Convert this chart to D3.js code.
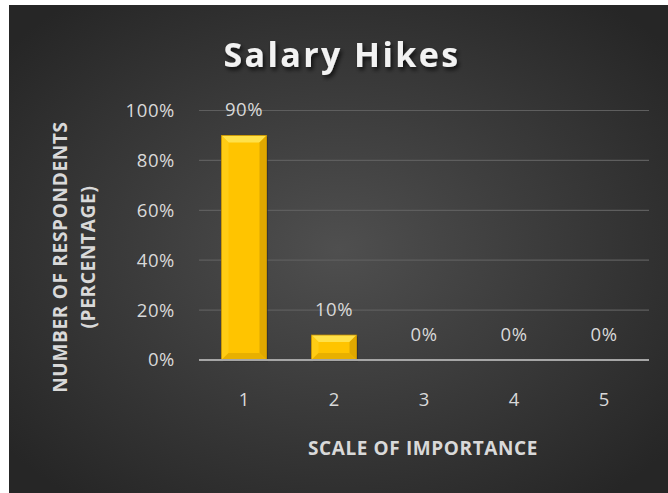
<!DOCTYPE html>
<html><head><meta charset="utf-8">
<script src="https://cdn.jsdelivr.net/npm/d3@7/dist/d3.min.js"></script>
<style>html,body{margin:0;padding:0;background:#fff;}svg{display:block;}</style>
</head><body>
<svg id="chart" width="668" height="493"></svg>
<script>
const categories = ["1","2","3","4","5"];
const values = [0.90, 0.10, 0, 0, 0];
const yTicks = [0, 0.2, 0.4, 0.6, 0.8, 1.0];
const title = "Salary Hikes";
const xTitle = "SCALE OF IMPORTANCE";
const yTitle = ["NUMBER OF RESPONDENTS", "(PERCENTAGE)"];

const FONT = "'Open Sans', 'Noto Sans', sans-serif";
const svg = d3.select("#chart");
const defs = svg.append("defs");
const rg = defs.append("radialGradient").attr("id","bg").attr("cx","50%").attr("cy","50%").attr("r","65%");
rg.append("stop").attr("offset","0%").attr("stop-color","#4f4f4f");
rg.append("stop").attr("offset","100%").attr("stop-color","#262626");
const f = defs.append("filter").attr("id","sh").attr("x","-10%").attr("y","-20%").attr("width","130%").attr("height","150%");
f.append("feDropShadow").attr("dx",2).attr("dy",3).attr("stdDeviation",2).attr("flood-color","#000").attr("flood-opacity",0.7);

svg.append("rect").attr("x",9).attr("y",5).attr("width",659).attr("height",488).attr("fill","url(#bg)");

const m = {left:199, right:649, top:110.5, bottom:360};
const x = d3.scaleBand().domain(categories).range([m.left, m.right]).paddingInner(0.5).paddingOuter(0.25);
const y = d3.scaleLinear().domain([0,1]).range([m.bottom, m.top]);

// gridlines
svg.append("g").selectAll("line").data(yTicks.filter(d=>d>0)).join("line")
  .attr("x1",m.left).attr("x2",m.right).attr("y1",d=>y(d)).attr("y2",d=>y(d))
  .attr("stroke","#5e5e5e").attr("stroke-width",1.2);

// y axis labels
const yAxis = d3.axisLeft(y).tickValues(yTicks).tickFormat(d3.format(".0%")).tickSize(0).tickPadding(24);
const gy = svg.append("g").attr("transform",`translate(${m.left},0)`).call(yAxis);
gy.select(".domain").remove();
gy.selectAll("text").attr("fill","#d9d9d9").style("font-family",FONT).style("font-size","18.5px").style("letter-spacing","0.6px");

// x axis
const xAxis = d3.axisBottom(x).tickSize(0).tickPadding(33);
const gx = svg.append("g").attr("transform",`translate(0,${m.bottom})`).call(xAxis);
gx.select(".domain").remove();
gx.selectAll("text").attr("fill","#d9d9d9").style("font-family",FONT).style("font-size","18.5px");

// bars with bevel
const bw = x.bandwidth();
const bev = 7;
const bars = svg.append("g").selectAll("g").data(values.map((v,i)=>({c:categories[i],v}))).join("g").filter(d=>d.v>0);
bars.each(function(d){
  const g = d3.select(this);
  const x0 = x(d.c), x1 = x0+bw, y0 = y(d.v), y1 = y(0);
  const h = y1-y0;
  const b = Math.min(bev, h/3);
  g.append("rect").attr("x",x0+1.5).attr("y",y0+1.5).attr("width",bw).attr("height",h).attr("fill","#2a2a2a").attr("opacity",0.6);
  g.append("rect").attr("x",x0).attr("y",y0).attr("width",bw).attr("height",h).attr("fill","#FFC400");
  g.append("path").attr("d",`M${x0},${y0}L${x1},${y0}L${x1-b},${y0+b}L${x0+b},${y0+b}Z`).attr("fill","#FFE14A");
  g.append("path").attr("d",`M${x0},${y0}L${x0+b},${y0+b}L${x0+b},${y1-b}L${x0},${y1}Z`).attr("fill","#FFCC14");
  g.append("path").attr("d",`M${x1},${y0}L${x1-b},${y0+b}L${x1-b},${y1-b}L${x1},${y1}Z`).attr("fill","#E0A800");
  g.append("path").attr("d",`M${x0},${y1}L${x0+b},${y1-b}L${x1-b},${y1-b}L${x1},${y1}Z`).attr("fill","#E8B000");
  g.append("rect").attr("x",x0).attr("y",y0).attr("width",bw).attr("height",h).attr("fill","none").attr("stroke","#C99400").attr("stroke-width",0.8);
});

// axis line
svg.append("line").attr("x1",m.left).attr("x2",m.right).attr("y1",m.bottom).attr("y2",m.bottom)
  .attr("stroke","#a6a6a6").attr("stroke-width",2);

// value labels
svg.append("g").selectAll("text").data(values.map((v,i)=>({c:categories[i],v}))).join("text")
  .attr("x",d=>x(d.c)+bw/2).attr("y",d=>y(d.v)-19)
  .attr("text-anchor","middle").attr("fill","#d9d9d9")
  .style("font-family",FONT).style("font-size","18.5px").style("letter-spacing","0.6px")
  .text(d=>d3.format(".0%")(d.v));

// title
svg.append("text").attr("x",342).attr("y",67).attr("text-anchor","middle")
  .attr("fill","#f2f2f2").attr("filter","url(#sh)")
  .style("font-family",FONT).style("font-size","34px").style("font-weight","bold").style("letter-spacing","2.4px")
  .text(title);

// x title
svg.append("text").attr("x",423).attr("y",455).attr("text-anchor","middle")
  .attr("fill","#d9d9d9").style("font-family",FONT).style("font-size","19px").style("font-weight","bold").style("letter-spacing","0.6px")
  .text(xTitle);

// y title
const yt = svg.append("text").attr("transform","translate(69,257) rotate(-90)").attr("text-anchor","middle")
  .attr("fill","#d9d9d9").style("font-family",FONT).style("font-size","19px").style("font-weight","bold").style("letter-spacing","0.7px");
yt.selectAll("tspan").data(yTitle).join("tspan").attr("x",0).attr("dy",(d,i)=>i===0?"-0.1em":"1.45em").text(d=>d);
</script>
</body></html>
